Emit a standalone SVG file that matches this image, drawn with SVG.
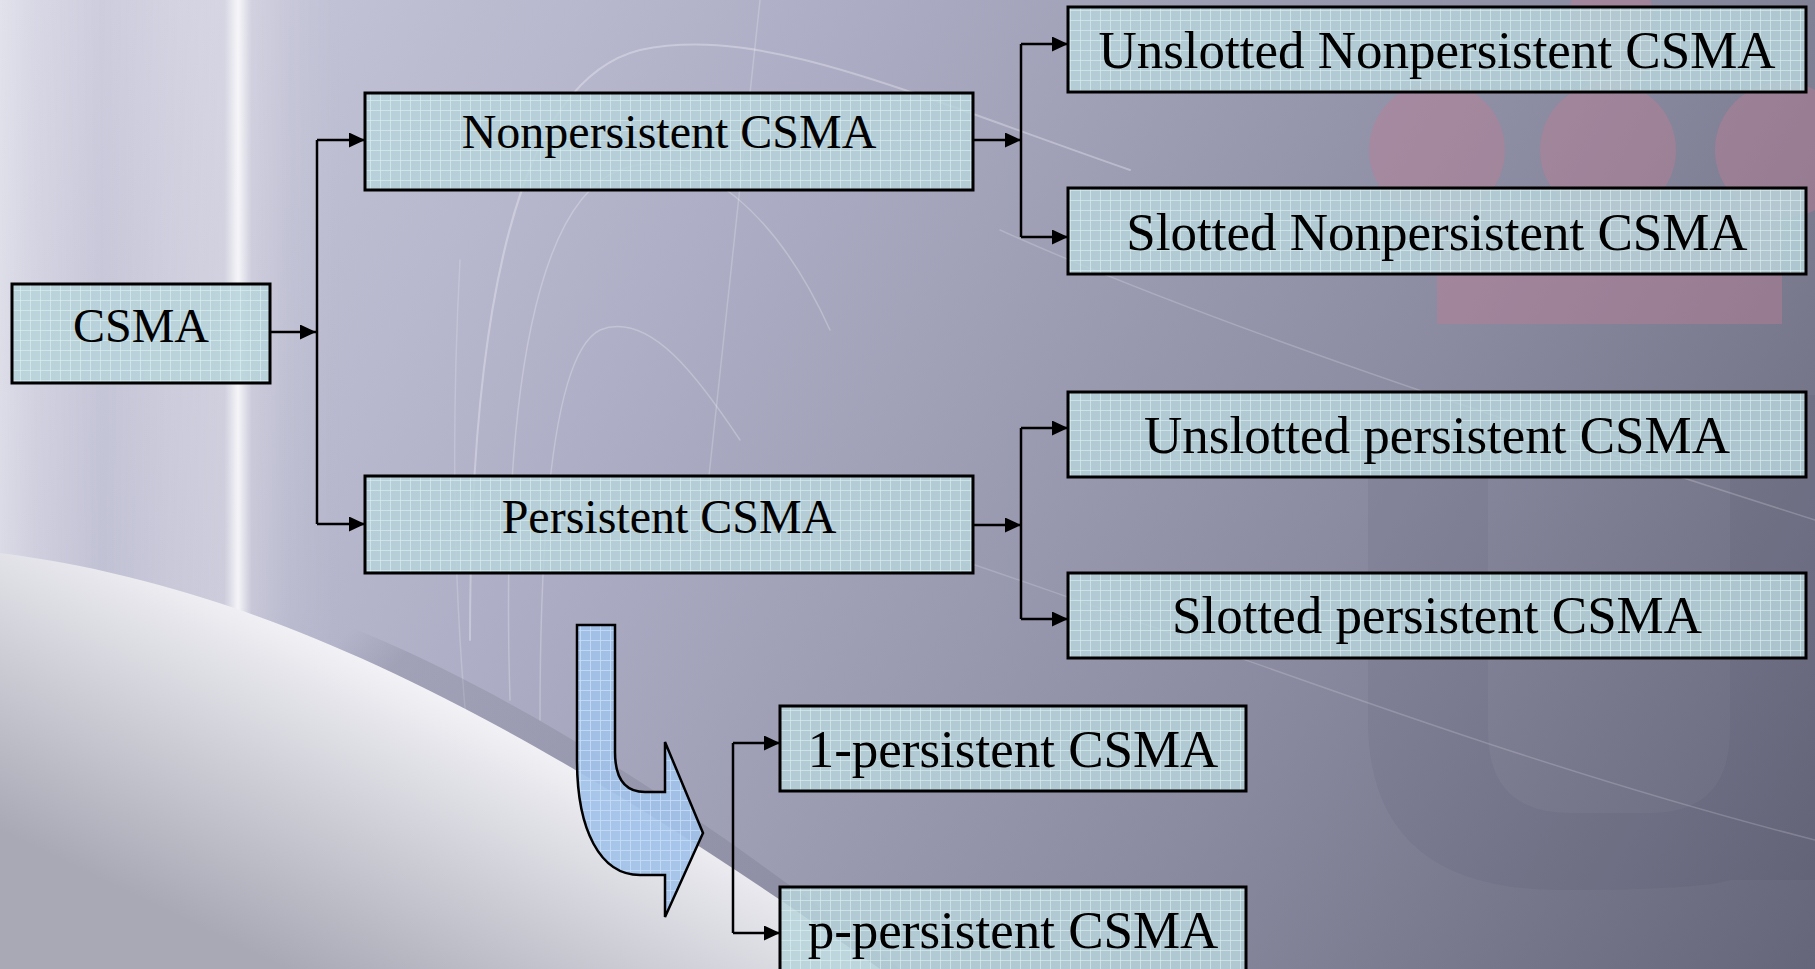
<svg xmlns="http://www.w3.org/2000/svg" width="1815" height="969" viewBox="0 0 1815 969">
<defs>
  <linearGradient id="bg" x1="0" y1="0" x2="1815" y2="969" gradientUnits="userSpaceOnUse">
    <stop offset="0" stop-color="#cfcfe0"/>
    <stop offset="0.35" stop-color="#aeaec6"/>
    <stop offset="0.7" stop-color="#8a8aa0"/>
    <stop offset="1" stop-color="#66667a"/>
  </linearGradient>
  <linearGradient id="streaks" x1="0" y1="0" x2="340" y2="0" gradientUnits="userSpaceOnUse">
    <stop offset="0" stop-color="#ffffff" stop-opacity="0.4"/>
    <stop offset="0.1" stop-color="#ffffff" stop-opacity="0.22"/>
    <stop offset="0.3" stop-color="#ffffff" stop-opacity="0.05"/>
    <stop offset="0.5" stop-color="#ffffff" stop-opacity="0.2"/>
    <stop offset="0.66" stop-color="#ffffff" stop-opacity="0.28"/>
    <stop offset="0.7" stop-color="#ffffff" stop-opacity="0.85"/>
    <stop offset="0.74" stop-color="#ffffff" stop-opacity="0.22"/>
    <stop offset="0.85" stop-color="#ffffff" stop-opacity="0.08"/>
    <stop offset="1" stop-color="#ffffff" stop-opacity="0"/>
  </linearGradient>
  <linearGradient id="streakFade" x1="0" y1="0" x2="0" y2="760" gradientUnits="userSpaceOnUse">
    <stop offset="0" stop-color="#fff" stop-opacity="1"/>
    <stop offset="0.8" stop-color="#fff" stop-opacity="1"/>
    <stop offset="1" stop-color="#fff" stop-opacity="0"/>
  </linearGradient>
  <mask id="fadeMask">
    <rect x="0" y="0" width="400" height="760" fill="url(#streakFade)"/>
  </mask>
  <linearGradient id="swoosh" x1="480" y1="680" x2="330" y2="990" gradientUnits="userSpaceOnUse">
    <stop offset="0" stop-color="#fbfbfd"/>
    <stop offset="0.22" stop-color="#e6e6ec"/>
    <stop offset="1" stop-color="#a9a9b6"/>
  </linearGradient>
  <linearGradient id="shadow" x1="420" y1="640" x2="380" y2="600" gradientUnits="userSpaceOnUse">
    <stop offset="0" stop-color="#5a5a6a" stop-opacity="0.3"/>
    <stop offset="1" stop-color="#5a5a6a" stop-opacity="0"/>
  </linearGradient>
  <pattern id="boxfill" width="10" height="10" patternUnits="userSpaceOnUse">
    <rect width="10" height="10" fill="#b6d3d9" fill-opacity="0.86"/>
    <path d="M0 0.5H10M0.5 0V10" stroke="#dff4f4" stroke-opacity="0.55" stroke-width="1"/>
  </pattern>
  <pattern id="bluefill" width="10" height="10" patternUnits="userSpaceOnUse">
    <rect width="10" height="10" fill="#a2c2ea" fill-opacity="0.92"/>
    <path d="M0 0.5H10M0.5 0V10" stroke="#c6ddf7" stroke-opacity="0.8" stroke-width="1"/>
  </pattern>
  <marker id="arr" markerUnits="userSpaceOnUse" markerWidth="16" markerHeight="15" refX="16" refY="7.5" orient="auto">
    <path d="M0,0 L16,7.5 L0,15 Z" fill="#000"/>
  </marker>
  <style>
    .box { fill: url(#boxfill); stroke: #000; stroke-width: 3; }
    .t { font-family: "Liberation Serif", "Times New Roman", serif; fill: #000; text-anchor: middle; }
    .s48 { font-size: 48px; }
    .s53 { font-size: 53px; }
    .c { fill: none; stroke: #000; stroke-width: 2.5; }
    .ca { fill: none; stroke: #000; stroke-width: 2.5; marker-end: url(#arr); }
    .arc { fill: none; stroke: #ffffff; stroke-linecap: round; }
  </style>
</defs>

<g id="background">
  <rect width="1815" height="969" fill="url(#bg)"/>
  <rect x="0" y="0" width="340" height="760" fill="url(#streaks)" mask="url(#fadeMask)"/>
  <g id="watermark" fill="#c27c94" fill-opacity="0.4">
    <rect x="1570" y="-30" width="82" height="120" rx="41"/>
    <circle cx="1437" cy="150" r="68"/>
    <circle cx="1608" cy="150" r="68"/>
    <circle cx="1783" cy="150" r="68"/>
    <rect x="1437" y="200" width="345" height="124"/>
  </g>
  <path d="M1368,395 H1488 V730 Q1488,813 1570,813 H1650 Q1730,813 1730,730 V395 H1815 V880 H1730 Q1700,890 1560,890 Q1368,890 1368,720 Z" fill="#28283c" fill-opacity="0.06"/>
  <g class="arc">
    <path d="M470,640 C470,300 520,80 640,50 C760,25 900,90 1130,170" stroke-opacity="0.3" stroke-width="2"/>
    <path d="M510,700 C500,380 540,200 620,170 C700,140 780,220 830,330" stroke-opacity="0.25" stroke-width="1.5"/>
    <path d="M540,720 C540,480 560,350 600,330 C650,310 700,380 740,440" stroke-opacity="0.25" stroke-width="1.5"/>
    <path d="M1000,230 C1200,320 1500,420 1815,520" stroke-opacity="0.2" stroke-width="1.5"/>
    <path d="M960,560 C1200,640 1500,760 1815,840" stroke-opacity="0.18" stroke-width="1.5"/>
    <path d="M700,560 C720,360 740,200 760,0" stroke-opacity="0.22" stroke-width="1.5"/>
    <path d="M460,260 C450,450 455,620 470,760" stroke-opacity="0.2" stroke-width="1.5"/>
  </g>
  <path d="M0,540 C250,570 480,640 900,969 L0,969 Z" fill="url(#shadow)" fill-opacity="0.6"/>
  <path d="M0,553 C250,585 500,700 880,969 L0,969 Z" fill="url(#swoosh)"/>
</g>

<g id="connectors">
  <path class="ca" d="M270,332 H316"/>
  <path class="c" d="M317,140 V524"/>
  <path class="ca" d="M317,140 H365"/>
  <path class="ca" d="M317,524 H365"/>
  <path class="ca" d="M973,140 H1021"/>
  <path class="c" d="M1021,44 V237"/>
  <path class="ca" d="M1021,44 H1068"/>
  <path class="ca" d="M1021,237 H1068"/>
  <path class="ca" d="M973,525 H1021"/>
  <path class="c" d="M1021,428 V619"/>
  <path class="ca" d="M1021,428 H1068"/>
  <path class="ca" d="M1021,619 H1068"/>
  <path class="c" d="M733,743 V933"/>
  <path class="ca" d="M733,743 H780"/>
  <path class="ca" d="M733,933 H780"/>
</g>

<g id="curved-arrow">
  <path d="M577,625 L615,625 L615,752 C615,778 625,792 645,792 L665,792 L665,742 L703,833 L665,917 L665,875 L640,875 C600,875 577,830 577,760 Z" fill="url(#bluefill)" stroke="#000" stroke-width="2.5" stroke-linejoin="miter"/>
</g>

<g id="node-csma">
  <rect class="box" x="12" y="284" width="258" height="99"/>
  <text class="t s48" x="141" y="342">CSMA</text>
</g>
<g id="node-nonpersistent">
  <rect class="box" x="365" y="93" width="608" height="97"/>
  <text class="t s48" x="669" y="148">Nonpersistent CSMA</text>
</g>
<g id="node-persistent">
  <rect class="box" x="365" y="476" width="608" height="97"/>
  <text class="t s48" x="669" y="533">Persistent CSMA</text>
</g>
<g id="node-unslotted-nonpersistent">
  <rect class="box" x="1068" y="7" width="738" height="85"/>
  <text class="t s53" x="1437" y="68">Unslotted Nonpersistent CSMA</text>
</g>
<g id="node-slotted-nonpersistent">
  <rect class="box" x="1068" y="188" width="738" height="86"/>
  <text class="t s53" x="1437" y="250">Slotted Nonpersistent CSMA</text>
</g>
<g id="node-unslotted-persistent">
  <rect class="box" x="1068" y="392" width="738" height="85"/>
  <text class="t s53" x="1437" y="453">Unslotted persistent CSMA</text>
</g>
<g id="node-slotted-persistent">
  <rect class="box" x="1068" y="573" width="738" height="85"/>
  <text class="t s53" x="1437" y="633">Slotted persistent CSMA</text>
</g>
<g id="node-1-persistent">
  <rect class="box" x="780" y="706" width="466" height="85"/>
  <text class="t s53" x="1013" y="767">1-persistent CSMA</text>
</g>
<g id="node-p-persistent">
  <rect class="box" x="780" y="887" width="466" height="100"/>
  <text class="t s53" x="1013" y="948">p-persistent CSMA</text>
</g>
</svg>
